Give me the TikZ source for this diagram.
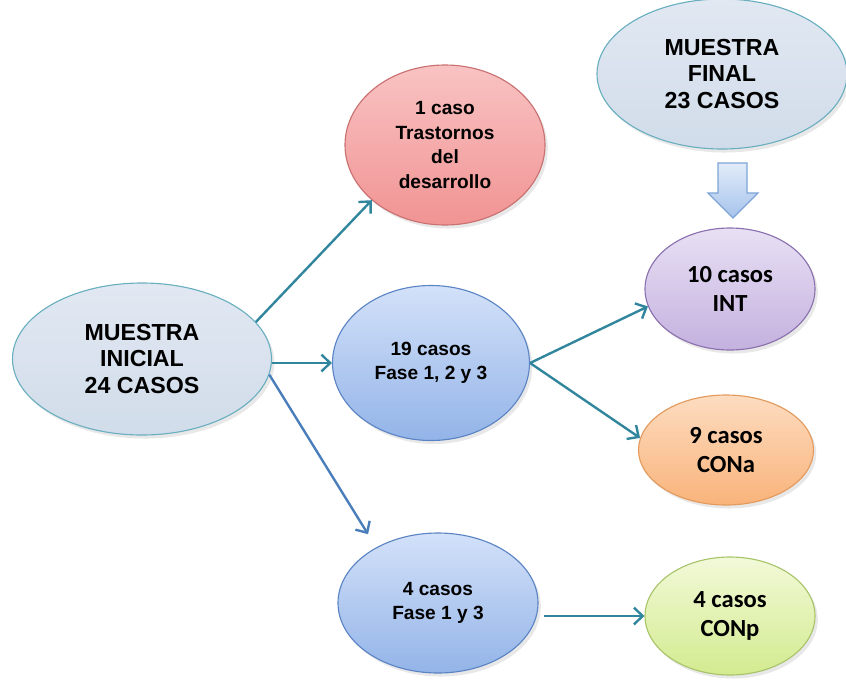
\documentclass[tikz,border=0pt]{standalone}
\usepackage{fontspec}
\setmainfont{Liberation Sans}
\newfontfamily\calibri{Carlito}
\usetikzlibrary{shapes.geometric, arrows.meta, shadows}
\usepackage{xcolor}

\definecolor{verdeazul}{HTML}{31859C}
\definecolor{azulflecha}{HTML}{4A7EBB}
\definecolor{grisA}{HTML}{E1E8F2}
\definecolor{grisB}{HTML}{D1DCEA}
\definecolor{grisBorde}{HTML}{6AAFBF}
\definecolor{rosaA}{HTML}{F9C3C3}
\definecolor{rosaB}{HTML}{F19393}
\definecolor{rosaBorde}{HTML}{C97070}
\definecolor{azulA}{HTML}{D3E1F9}
\definecolor{azulB}{HTML}{93B4E8}
\definecolor{azulBorde}{HTML}{5B84C4}
\definecolor{lilaA}{HTML}{E8E0F4}
\definecolor{lilaB}{HTML}{C4B1DF}
\definecolor{lilaBorde}{HTML}{8A70AE}
\definecolor{naranjaA}{HTML}{FDDCC0}
\definecolor{naranjaB}{HTML}{F9B37A}
\definecolor{naranjaBorde}{HTML}{E39A5C}
\definecolor{verdeA}{HTML}{F2F9D8}
\definecolor{verdeB}{HTML}{D3EB90}
\definecolor{verdeBorde}{HTML}{A8C46A}
\definecolor{bloqueA}{HTML}{E2ECF9}
\definecolor{bloqueB}{HTML}{A6C3EC}
\definecolor{bloqueBorde}{HTML}{7DA4D6}

\begin{document}
\begin{tikzpicture}[>={Straight Barb[length=2.2mm, width=4.2mm]},
  burbuja/.style={ellipse, draw=#1Borde, line width=0.8pt, top color=#1A, bottom color=#1B,
    inner sep=0pt, align=center, drop shadow={shadow xshift=2pt, shadow yshift=-2.5pt, opacity=0.18}},
  grande/.style={font=\bfseries\fontsize{16.5}{18.6}\selectfont},
  mediana/.style={font=\bfseries\fontsize{13.6}{17.5}\selectfont},
  calib/.style={font=\calibri\bfseries\fontsize{17.5}{21}\selectfont},
  flecha/.style={->, line width=1.7pt, draw=verdeazul}]
  \useasboundingbox (0,0) rectangle (21.15,-17.05);
  % muestras
  \node[burbuja=gris, grande, minimum width=6.475cm, minimum height=3.8cm] (inicial) at (3.55,-8.975) {MUESTRA\\INICIAL\\24 CASOS};
  \node[burbuja=gris, grande, minimum width=6.25cm, minimum height=3.75cm] (final) at (18.05,-1.85) {MUESTRA\\FINAL\\23 CASOS};
  % grupos intermedios
  \node[burbuja=rosa, mediana, minimum width=5cm, minimum height=4cm] (trast) at (11.125,-3.625) {1 caso\\Trastornos\\del\\desarrollo};
  \node[burbuja=azul, mediana, minimum width=4.925cm, minimum height=3.875cm] (fase123) at (10.775,-9.075) {19 casos\\Fase 1, 2 y 3};
  \node[burbuja=azul, mediana, minimum width=5cm, minimum height=3.5cm] (fase13) at (10.95,-15.075) {4 casos\\Fase 1 y 3};
  % grupos finales
  \node[burbuja=lila, calib, minimum width=4.25cm, minimum height=3.05cm] (int) at (18.25,-7.225) {10 casos\\INT};
  \node[burbuja=naranja, calib, minimum width=4.375cm, minimum height=2.75cm] (cona) at (18.15,-11.25) {9 casos\\CONa};
  \node[burbuja=verde, calib, minimum width=4.25cm, minimum height=2.95cm] (conp) at (18.25,-15.4) {4 casos\\CONp};
  % flecha de bloque
  \draw[draw=bloqueBorde, line width=0.8pt, top color=bloqueA, bottom color=bloqueB]
    (17.95,-4.075) -- (18.675,-4.075) -- (18.675,-4.825) -- (18.95,-4.825)
    -- (18.325,-5.45) -- (17.7,-4.825) -- (17.95,-4.825) -- cycle;
  % conectores
  \draw[flecha] (inicial.18) -- (trast.217);
  \draw[flecha] (inicial.east |- fase123.west) -- (fase123.west);
  \draw[flecha, draw=azulflecha, shorten >=11pt] (inicial.-7) -- (fase13.138);
  \draw[flecha] (fase123.east) -- (int.192);
  \draw[flecha] (fase123.east) -- (cona.172);
  \draw[flecha, shorten <=4pt] (fase13.east |- conp) -- (conp);
\end{tikzpicture}
\end{document}
